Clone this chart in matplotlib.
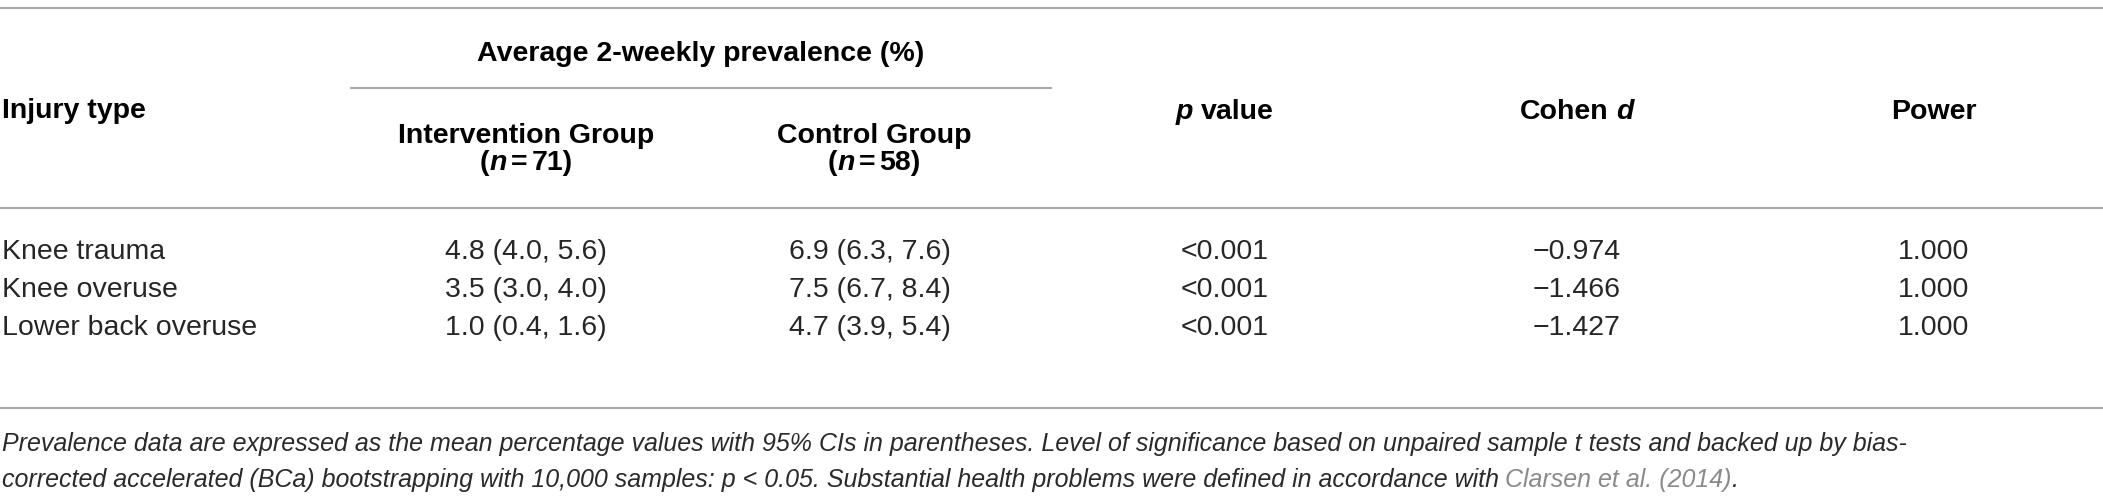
import matplotlib; matplotlib.use("Agg")
import matplotlib.pyplot as plt

W,H=2103,502
BODY,NOTE=20.5,18.0
FONT="Liberation Sans"
RULE="#a8a8a8"

injury_types=["Knee trauma","Knee overuse","Lower back overuse"]
interv_mean=[4.8,3.5,1.0]; interv_lo=[4.0,3.0,0.4]; interv_hi=[5.6,4.0,1.6]
control_mean=[6.9,7.5,4.7]; control_lo=[6.3,6.7,3.9]; control_hi=[7.6,8.4,5.4]
p_values=["<0.001","<0.001","<0.001"]
cohen_d=[-0.974,-1.466,-1.427]
power=[1.000,1.000,1.000]
n_interv,n_control=71,58
note1=("Prevalence data are expressed as the mean percentage values with 95% CIs in parentheses. "
       "Level of significance based on unpaired sample t tests and backed up by bias-")
note2="corrected accelerated (BCa) bootstrapping with 10,000 samples: p < 0.05. Substantial health problems were defined in accordance with "
note_ref="Clarsen et al. (2014)"

plt.rcParams["font.family"]=[FONT,"DejaVu Sans"]
fig=plt.figure(figsize=(W/100,H/100),dpi=100)
ax=fig.add_axes([0,0,1,1]);ax.set_xlim(0,W);ax.set_ylim(H,0);ax.axis("off")
R=fig.canvas.get_renderer()

def rich(x,y,parts,ha="left",size=BODY):
    # parts: (text, kwargs) -- 'gap' in kwargs = pixels after the piece
    objs=[]
    for s,kw in parts:
        kw=dict(kw);gap=kw.pop("gap",0)
        t=ax.text(0,y,s,fontsize=size,va="baseline",ha="left",**kw)
        objs.append((t,t.get_window_extent(renderer=R).width,gap))
    tot=sum(w+g for _,w,g in objs)-objs[-1][2]
    x0=x-tot/2 if ha=="center" else x
    for t,w,g in objs:
        t.set_x(x0);x0+=w+g

def rule(y,x0=0,x1=W):
    ax.plot([x0,x1],[y,y],color=RULE,lw=1.5,solid_capstyle="butt")

B=dict(fontweight="bold",color="black")
BI=dict(fontweight="bold",fontstyle="italic",color="black")
TXT="#262626"

# rules
rule(9);rule(89,350,1052);rule(209);rule(409)

# header
col_int,col_ctl,col_p,col_d,col_pw=526,874,1225,1577,1934
rich(2,118,[("Injury type",B)])
rich(701,61,[("Average 2-weekly prevalence (%)",B)],"center")
rich(col_int,143,[("Intervention Group",B)],"center")
rich(col_ctl,143,[("Control Group",B)],"center")
rich(col_int,170,[("(",dict(B,gap=1)),("n",dict(BI,gap=4)),("=",dict(B,gap=4)),(f"{n_interv})",B)],"center")
rich(col_ctl,170,[("(",dict(B,gap=1)),("n",dict(BI,gap=4)),("=",dict(B,gap=4)),(f"{n_control})",B)],"center")
rich(col_p,119,[("p",dict(BI,gap=8)),("value",B)],"center")
rich(col_d,119,[("Cohen",dict(B,gap=8)),("d",BI)],"center")
rich(col_pw,119,[("Power",B)],"center")

# rows
rows_y=[259,297,335]
for i,y in enumerate(rows_y):
    ax.text(2,y,injury_types[i],fontsize=BODY,va="baseline",color=TXT)
    ax.text(col_int,y,f"{interv_mean[i]:.1f} ({interv_lo[i]:.1f}, {interv_hi[i]:.1f})",
            fontsize=BODY,va="baseline",ha="center",color=TXT)
    ax.text(col_ctl-4,y,f"{control_mean[i]:.1f} ({control_lo[i]:.1f}, {control_hi[i]:.1f})",
            fontsize=BODY,va="baseline",ha="center",color=TXT)
    ax.text(col_p,y,p_values[i],fontsize=BODY,va="baseline",ha="center",color=TXT)
    ax.text(col_d,y,f"{cohen_d[i]:.3f}".replace("-","\u2212"),fontsize=BODY,va="baseline",ha="center",color=TXT)
    ax.text(col_pw,y,f"{power[i]:.3f}",fontsize=BODY,va="baseline",ha="center",color=TXT)

# footnote
IT=dict(fontstyle="italic",color="#2a2a2a")
rich(2,451,[(note1,IT)],size=NOTE)
rich(2,487,[(note2.rstrip(),dict(IT,gap=6)),(note_ref,dict(fontstyle="italic",color="#8a8a8a")),(".",IT)],size=NOTE)

fig.savefig("out.png",dpi=100,facecolor="white")
